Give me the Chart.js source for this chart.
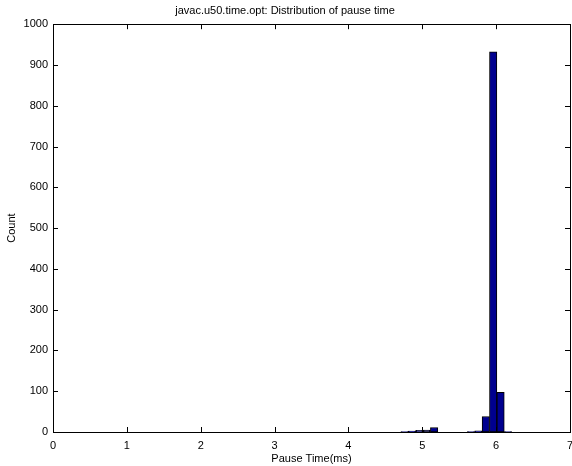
<!DOCTYPE html>
<html>
<head>
<meta charset="utf-8">
<script src="https://cdn.jsdelivr.net/npm/chart.js@4.4.1/dist/chart.umd.min.js"></script>
<style>
  html, body { margin: 0; padding: 0; background: #fff; }
  #wrap { width: 572px; height: 466px; }
</style>
</head>
<body>
<div id="wrap"><canvas id="histChart" width="572" height="466"></canvas></div>
<script>
// Centres des classes (ms) et nombre de pauses par classe
const binCenters = [4.76, 4.86, 4.96, 5.06, 5.16, 5.66, 5.76, 5.86, 5.96, 6.06, 6.16];
const binCounts  = [1, 2, 4, 5, 11, 1, 3, 38, 932, 97, 1];

const xTicks = [0, 1, 2, 3, 4, 5, 6, 7];
const yTicks = [0, 100, 200, 300, 400, 500, 600, 700, 800, 900, 1000];

const fontFamily = '"Liberation Sans", Arial, Helvetica, sans-serif';

// Cadre et graduations vers l'intérieur, façon MATLAB
const framePlugin = {
    id: 'frame',
    afterDraw(chart) {
        const { ctx, chartArea: a, scales } = chart;
        const len = 5;
        ctx.save();
        ctx.strokeStyle = '#000';
        ctx.lineWidth = 1;
        ctx.beginPath();
        scales.x.ticks.forEach(t => {
            const px = Math.round(scales.x.getPixelForValue(t.value)) + 0.5;
            ctx.moveTo(px, a.bottom);
            ctx.lineTo(px, a.bottom - len);
            ctx.moveTo(px, a.top);
            ctx.lineTo(px, a.top + len);
        });
        scales.y.ticks.forEach(t => {
            const py = Math.round(scales.y.getPixelForValue(t.value)) + 0.5;
            ctx.moveTo(a.left, py);
            ctx.lineTo(a.left + len, py);
            ctx.moveTo(a.right, py);
            ctx.lineTo(a.right - len, py);
        });
        ctx.stroke();
        ctx.strokeRect(Math.round(a.left) + 0.5, Math.round(a.top) + 0.5,
            Math.round(a.right - a.left), Math.round(a.bottom - a.top));
        ctx.restore();
    }
};

new Chart(document.getElementById('histChart'), {
    type: 'bar',
    data: {
        datasets: [{
            data: binCenters.map((x, i) => ({ x: x, y: binCounts[i] })),
            backgroundColor: '#00008f',
            borderColor: '#000',
            borderWidth: 1,
            borderSkipped: false,
            barPercentage: 1,
            categoryPercentage: 1
        }]
    },
    options: {
        responsive: false,
        animation: false,
        layout: { padding: { right: 2, left: 0, bottom: 0 } },
        plugins: {
            legend: { display: false },
            tooltip: { enabled: false },
            title: {
                display: true,
                text: 'javac.u50.time.opt: Distribution of pause time',
                color: '#000',
                font: { family: fontFamily, size: 11, weight: 'normal' },
                padding: { top: 4, bottom: 7 }
            }
        },
        scales: {
            x: {
                type: 'linear',
                min: 0,
                max: 7,
                offset: false,
                afterBuildTicks: s => { s.ticks = xTicks.map(v => ({ value: v })); },
                afterFit: s => { s.height = 34; s.paddingRight = 0; s.paddingLeft = 0; },
                grid: { display: false, drawTicks: false },
                border: { display: false },
                ticks: {
                    color: '#000',
                    padding: 7,
                    font: { family: fontFamily, size: 11 }
                },
                title: {
                    display: true,
                    text: 'Pause Time(ms)',
                    color: '#000',
                    padding: { top: 0, bottom: 0 },
                    font: { family: fontFamily, size: 11 }
                }
            },
            y: {
                min: 0,
                max: 1000,
                afterBuildTicks: s => { s.ticks = yTicks.map(v => ({ value: v })); },
                afterFit: s => { s.width = 53; s.paddingTop = 0; s.paddingBottom = 0; },
                grid: { display: false, drawTicks: false },
                border: { display: false },
                ticks: {
                    color: '#000',
                    padding: 5,
                    callback: v => String(v),
                    font: { family: fontFamily, size: 11 }
                },
                title: {
                    display: true,
                    text: 'Count',
                    color: '#000',
                    padding: { top: 5, bottom: 4 },
                    font: { family: fontFamily, size: 11 }
                }
            }
        }
    },
    plugins: [framePlugin]
});
</script>
</body>
</html>
